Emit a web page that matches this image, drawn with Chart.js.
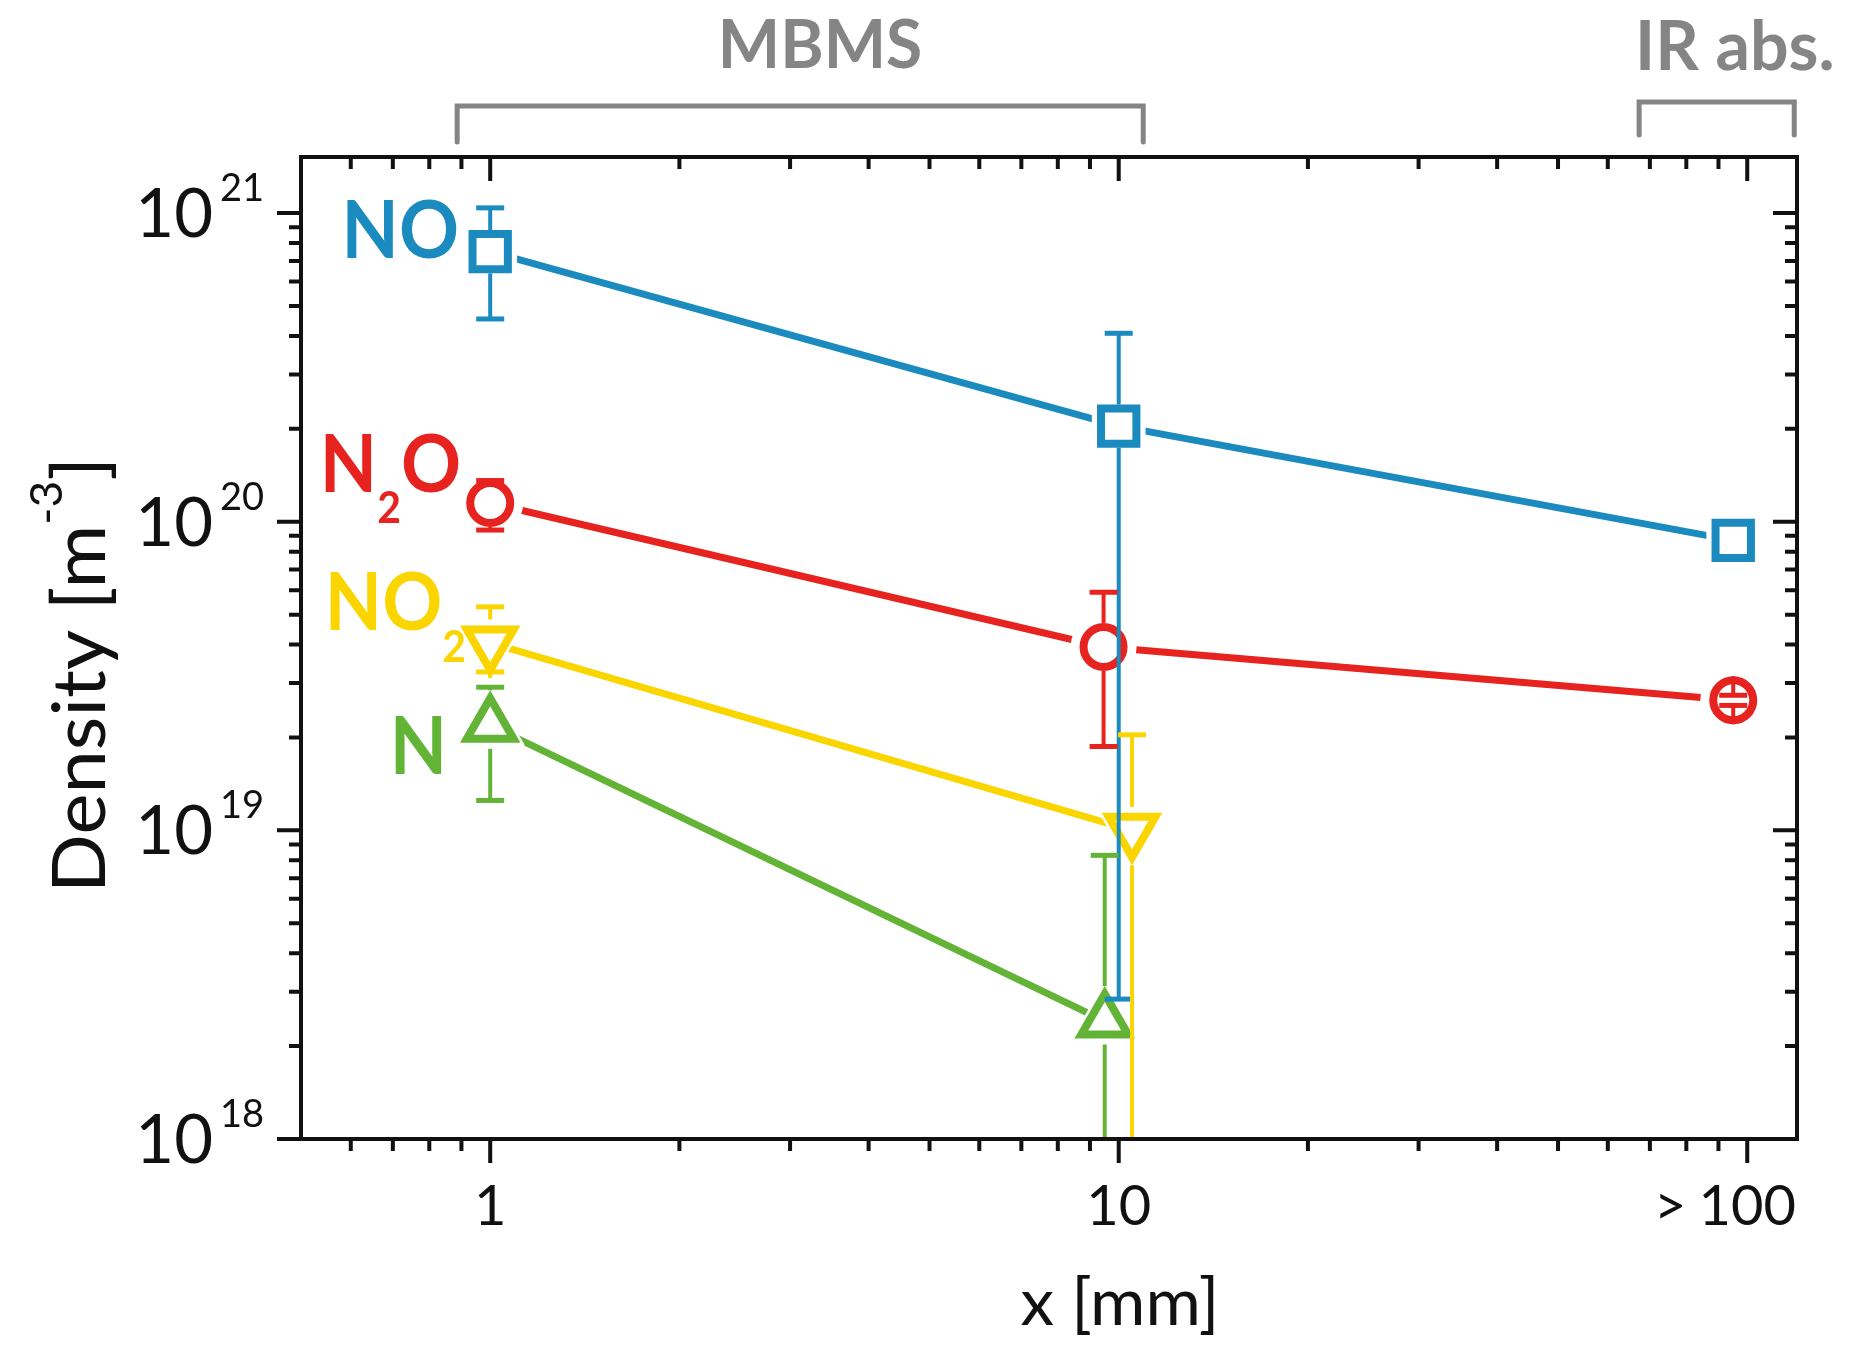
<!DOCTYPE html>
<html lang="en">
<head>
<meta charset="utf-8">
<title>Density vs x</title>
<script src="https://cdn.jsdelivr.net/npm/chart.js@4.4.1/dist/chart.umd.min.js"></script>
<style>
    html, body { margin: 0; padding: 0; background: #fff; }
    #box { width: 1854px; height: 1366px; position: relative; }
</style>
</head>
<body>
<div id="box"><canvas id="myChart"></canvas></div>
<script>
// x [mm], density [m^-3], error bar ends (null = none)
const noX  = [1, 10, 95];
const noY  = [7.5e20, 2.04e20, 8.7e19];
const noHi = [1.04e21, 4.08e20, null];
const noLo = [4.54e20, 2.84e18, null];

const n2oX  = [1, 9.46, 95];
const n2oY  = [1.15e20, 3.93e19, 2.64e19];
const n2oHi = [1.36e20, 5.91e19, 2.74e19];
const n2oLo = [9.4e19, 1.87e19, 2.54e19];

const no2X  = [1, 10.5];
const no2Y  = [4.05e19, 1.0e19];
const no2Hi = [5.3e19, 2.04e19];
const no2Lo = [3.26e19, 1e17];

const nX  = [1, 9.5];
const nY  = [2.19e19, 2.41e18];
const nHi = [2.91e19, 8.3e18];
const nLo = [1.25e19, 1e17];

const xTickValues = [1, 10, 100];
const xTickLabels = ['1', '10', '100'];
const xMinorTicks = [0.6, 0.7, 0.8, 0.9, 2, 3, 4, 5, 6, 7, 8, 9, 20, 30, 40, 50, 60, 70, 80, 90];
const yTickValues = [1e18, 1e19, 1e20, 1e21];
const yTickExps = ['18', '19', '20', '21'];

const mbmsRange = [0.886, 10.94];
const irRange = [67.3, 118.8];

const BLUE = '#1b8bbf', RED = '#e6231e', YELLOW = '#fbd500', GREEN = '#63b436', GRAY = '#858585';

function series(label, xs, ys, hi, lo, color, style, radius, rotation) {
    return {
        label: label,
        data: xs.map((x, i) => ({x: x, y: ys[i]})),
        hi: hi, lo: lo,
        borderColor: color,
        backgroundColor: '#fff',
        borderWidth: 7,
        pointStyle: style,
        pointRadius: radius,
        pointRotation: rotation,
        pointBorderWidth: 8,
        pointBorderColor: color,
        pointBackgroundColor: '#fff',
        tension: 0
    };
}

// how far the marker reaches above / below its centre
function markerEdges(ds) {
    const r = ds.pointRadius, b = ds.pointBorderWidth / 2;
    if (ds.pointStyle === 'rect') return [0.7071 * r + b, 0.7071 * r + b];
    if (ds.pointStyle === 'triangle') {
        return ds.pointRotation === 180 ? [0.5 * r + b + 6, r + b + 4] : [r + b + 4, 0.5 * r + b + 6];
    }
    return [r + b, r + b];
}

function drawText(ctx, str, x, y, font, color, align, sx) {
    ctx.save();
    ctx.font = font;
    ctx.fillStyle = color;
    ctx.textAlign = align;
    ctx.textBaseline = 'alphabetic';
    ctx.translate(x, y);
    ctx.scale(sx || 1, 1);
    ctx.fillText(str, 0, 0);
    ctx.restore();
}

// parts: [text, font, dy]; drawn so that the whole thing ends at xRight
function drawParts(ctx, parts, xRight, y, color, sx) {
    let widths = parts.map(p => { ctx.font = p[1]; return ctx.measureText(p[0]).width * sx; });
    let x = xRight - widths.reduce((a, b) => a + b, 0);
    parts.forEach((p, i) => {
        drawText(ctx, p[0], x, y + (p[2] || 0), p[1], color, 'left', sx);
        x += widths[i];
    });
}

const decor = {
    id: 'decor',
    afterDatasetsDraw(chart) {
        const ctx = chart.ctx, a = chart.chartArea;
        const xs = chart.scales.x, ys = chart.scales.y;

        ctx.save();
        ctx.beginPath();
        ctx.rect(a.left, a.top, a.right - a.left, a.bottom - a.top);
        ctx.clip();

        // white gap round every symbol
        ctx.fillStyle = '#fff';
        chart.data.datasets.forEach((ds, i) => {
            chart.getDatasetMeta(i).data.forEach(pt => {
                Chart.helpers.drawPoint(ctx, {pointStyle: ds.pointStyle, rotation: ds.pointRotation, radius: ds.pointRadius + 13, borderWidth: 0}, pt.x, pt.y);
            });
        });
        // symbols again on top
        chart.data.datasets.forEach((ds, i) => {
            chart.getDatasetMeta(i).data.forEach(pt => pt.draw(ctx, a));
        });
        // error bars
        chart.data.datasets.forEach((ds, i) => {
            const edge = markerEdges(ds);
            ctx.strokeStyle = ds.borderColor;
            chart.getDatasetMeta(i).data.forEach((pt, j) => {
                [[ds.hi[j], -edge[0]], [ds.lo[j], edge[1]]].forEach(e => {
                    if (e[0] === null) return;
                    const yEnd = ys.getPixelForValue(e[0]);
                    ctx.lineWidth = 4;
                    ctx.beginPath();
                    ctx.moveTo(pt.x, pt.y + e[1]);
                    ctx.lineTo(pt.x, yEnd);
                    ctx.stroke();
                    ctx.lineWidth = 5;
                    ctx.beginPath();
                    ctx.moveTo(pt.x - 14, yEnd);
                    ctx.lineTo(pt.x + 14, yEnd);
                    ctx.stroke();
                });
            });
        });
        ctx.restore();

        // frame and ticks
        ctx.save();
        ctx.strokeStyle = '#111';
        ctx.lineWidth = 4;
        ctx.strokeRect(a.left, a.top, a.right - a.left, a.bottom - a.top);
        function xTick(v, len) {
            const px = xs.getPixelForValue(v);
            ctx.beginPath();
            ctx.moveTo(px, a.bottom); ctx.lineTo(px, a.bottom + len);
            ctx.moveTo(px, a.top); ctx.lineTo(px, a.top + len);
            ctx.stroke();
        }
        function yTick(v, len) {
            const py = ys.getPixelForValue(v);
            ctx.beginPath();
            ctx.moveTo(a.left, py); ctx.lineTo(a.left - len, py);
            ctx.moveTo(a.right, py); ctx.lineTo(a.right - len, py);
            ctx.stroke();
        }
        xMinorTicks.forEach(v => xTick(v, 12));
        xTickValues.forEach(v => xTick(v, 24));
        yTickValues.forEach((v, k) => {
            yTick(v, 24);
            if (k < yTickValues.length - 1) {
                for (let m = 2; m <= 9; m++) yTick(v * m, 12);
            }
        });
        ctx.restore();

        // tick labels
        const tickFont = '56px Lato';
        xTickValues.forEach((v, k) => {
            const px = xs.getPixelForValue(v);
            drawText(ctx, xTickLabels[k], px, a.bottom + 86, tickFont, '#111', 'center');
            if (k === xTickValues.length - 1) {
                ctx.font = tickFont;
                const w = ctx.measureText(xTickLabels[k]).width;
                drawText(ctx, '>', px - w / 2 - 12, a.bottom + 86, tickFont, '#111', 'right');
            }
        });
        yTickValues.forEach((v, k) => {
            const py = ys.getPixelForValue(v);
            drawText(ctx, '10', a.left - 88, py + 24, '67px Lato', '#111', 'right');
            drawText(ctx, yTickExps[k], a.left - 81, py - 12, '38px Lato', '#111', 'left');
        });

        // axis titles
        drawText(ctx, 'x [mm]', 1120, 1325, '66px Lato', '#111', 'center', 1.02);
        ctx.save();
        ctx.translate(105, 893);
        ctx.rotate(-Math.PI / 2);
        const yParts = [['Density [m', '74px Lato', 0], ['-3', '44px Lato', -43], [']', '74px Lato', 0]];
        let yW = 0;
        yParts.forEach(p => { ctx.font = p[1]; yW += ctx.measureText(p[0]).width; });
        drawParts(ctx, yParts, 436, 0, '#111', 436 / yW);
        ctx.restore();

        // species labels
        const big = 'bold 80px Lato', sub = 'bold 44px Lato';
        drawParts(ctx, [['NO', big]], 459, 258, BLUE, 0.93);
        drawParts(ctx, [['N', big], ['2', sub, 31], ['O', big]], 461, 492, RED, 0.93);
        drawParts(ctx, [['NO', big], ['2', sub, 32]], 466, 630, YELLOW, 0.93);
        drawParts(ctx, [['N', big]], 447, 774, GREEN, 0.93);

        // method brackets above the plot
        ctx.save();
        ctx.strokeStyle = GRAY;
        ctx.lineWidth = 5;
        ctx.lineJoin = 'miter';
        ctx.lineCap = 'round';
        function bracket(range, y, drop) {
            const x0 = xs.getPixelForValue(range[0]), x1 = xs.getPixelForValue(range[1]);
            ctx.beginPath();
            ctx.moveTo(x0, y + drop); ctx.lineTo(x0, y); ctx.lineTo(x1, y); ctx.lineTo(x1, y + drop);
            ctx.stroke();
        }
        bracket(mbmsRange, 106, 36);
        bracket(irRange, 102, 33);
        ctx.restore();
        drawText(ctx, 'MBMS', 820, 68, 'bold 66px Lato', GRAY, 'center', 1.0);
        drawText(ctx, 'IR abs.', 1635, 70, 'bold 68px Lato', GRAY, 'left', 1.0);
    }
};

const ctx = document.getElementById('myChart');
const myChart = new Chart(ctx, {
    type: 'line',
    data: {
        datasets: [
            series('NO', noX, noY, noHi, noLo, BLUE, 'rect', 25, 0),
            series('N2O', n2oX, n2oY, n2oHi, n2oLo, RED, 'circle', 20, 0),
            series('NO2', no2X, no2Y, no2Hi, no2Lo, YELLOW, 'triangle', 27, 180),
            series('N', nX, nY, nHi, nLo, GREEN, 'triangle', 27, 0)
        ]
    },
    options: {
        responsive: true,
        maintainAspectRatio: false,
        animation: false,
        layout: { padding: { left: 301, right: 57, top: 157, bottom: 227 } },
        plugins: { legend: { display: false }, tooltip: { enabled: false } },
        scales: {
            x: { type: 'logarithmic', min: 0.5, max: 120, display: false },
            y: { type: 'logarithmic', min: 1e18, max: 1.52e21, display: false }
        }
    },
    plugins: [decor]
});
</script>
</body>
</html>
